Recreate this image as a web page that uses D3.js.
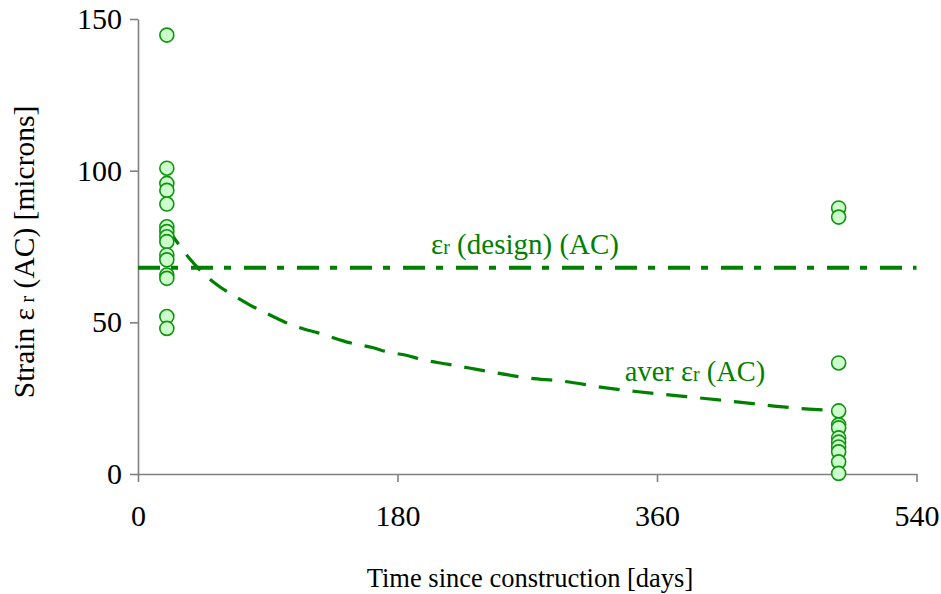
<!DOCTYPE html>
<html>
<head>
<meta charset="utf-8">
<script src="https://cdn.jsdelivr.net/npm/d3@7"></script>
<style>
  body { margin: 0; background: #fff; }
</style>
</head>
<body>
<svg id="chart" width="941" height="594"></svg>
<script>
// measured strains at the two survey dates
const earlyDay = 20;
const earlyStrain = [144.7, 100.8, 95.8, 93.5, 89.0, 81.5, 79.9, 78.2, 76.6, 72.2, 70.6, 65.6, 64.5, 51.9, 48.0];
const lateDay = 486;
const lateStrain = [87.7, 84.7, 36.6, 20.8, 16.2, 15.2, 11.9, 10.5, 8.9, 7.3, 4.0, 0.2];

// average strain trend
const averDays = [20, 29, 35.6, 46.5, 55, 68.5, 77.7, 91.6, 101.3, 115.1, 124.4, 140.1, 148.2, 163.2, 172.5,
  187.5, 195.6, 210.7, 219.9, 234.9, 244.2, 272, 292.7, 324.6, 345.4, 369.7, 393.3, 416.9, 441.2, 465.4, 487];
const averStrain = [81.5, 75.2, 71.1, 65.6, 62.3, 58.2, 55.7, 52.4, 50.2, 47.8, 46.6, 44.2, 43.1, 41.6, 40.3,
  39.0, 37.9, 36.5, 35.8, 34.5, 33.7, 31.6, 30.7, 28.4, 27.2, 26.0, 24.9, 23.7, 22.4, 21.4, 20.8];

const designStrain = 68;

const xTicks = [0, 180, 360, 540];
const yTicks = [0, 50, 100, 150];

const green = '#008000';
const serif = '"Liberation Serif", "Times New Roman", serif';
const svg = d3.select('#chart');

const x = d3.scaleLinear().domain([0, 540]).range([138, 916.5]);
const y = d3.scaleLinear().domain([0, 150]).range([474, 19]);

// axes
const xAxis = svg.append('g').attr('transform', `translate(0,${y(0)})`)
  .call(d3.axisBottom(x).tickValues(xTicks).tickSize(8).tickPadding(23).tickSizeOuter(0));
const yAxis = svg.append('g').attr('transform', `translate(${x(0)},0)`)
  .call(d3.axisLeft(y).tickValues(yTicks).tickSize(8).tickPadding(8).tickSizeOuter(0));
[xAxis, yAxis].forEach(a => {
  a.attr('font-family', serif).attr('font-size', 30);
  a.select('.domain').attr('stroke', '#808080').attr('stroke-width', 1.6);
  a.selectAll('.tick line').attr('stroke', '#808080').attr('stroke-width', 1.6);
  a.selectAll('.tick text').attr('fill', '#000');
});
xAxis.selectAll('.tick text').attr('dy', '0.71em');

// design line
svg.append('line')
  .attr('x1', x(0)).attr('x2', x(540))
  .attr('y1', y(designStrain)).attr('y2', y(designStrain))
  .attr('stroke', green).attr('stroke-width', 4)
  .attr('stroke-dasharray', '22,11,7,13');

// average curve
svg.append('path')
  .datum(averDays.map((d, i) => [d, averStrain[i]]))
  .attr('fill', 'none').attr('stroke', green).attr('stroke-width', 3.2)
  .attr('stroke-dasharray', '21,13')
  .attr('d', d3.line().x(d => x(d[0])).y(d => y(d[1])).curve(d3.curveMonotoneX));

// points
const pts = earlyStrain.map(v => [earlyDay, v]).concat(lateStrain.map(v => [lateDay, v]));
svg.append('g').selectAll('circle').data(pts).enter().append('circle')
  .attr('cx', d => x(d[0])).attr('cy', d => y(d[1])).attr('r', 7)
  .attr('fill', '#ccffcc').attr('stroke', '#0f940f').attr('stroke-width', 1.6);

function label(parts, size, attrs) {
  const t = svg.append('text').attr('font-family', serif).attr('font-size', size);
  Object.entries(attrs).forEach(([k, v]) => t.attr(k, v));
  parts.forEach(([s, small]) => {
    const sp = t.append('tspan').text(s);
    if (small) sp.attr('font-size', Math.round(size * 0.7));
  });
  return t;
}

// series labels
label([['ε'], ['r', 1], [' (design) (AC)']], 29,
  { x: 525, y: 254, 'text-anchor': 'middle', fill: green });
label([['aver ε'], ['r', 1], [' (AC)']], 28.5,
  { x: 695, y: 381, 'text-anchor': 'middle', fill: green });

// axis titles
label([['Time since construction [days]']], 26.5,
  { x: 530, y: 587, 'text-anchor': 'middle', fill: '#000' });
label([['Strain ε'], [' r', 1], [' (AC) [microns]']], 29.5,
  { transform: 'translate(34,252) rotate(-90)', 'text-anchor': 'middle', fill: '#000' });
</script>
</body>
</html>
